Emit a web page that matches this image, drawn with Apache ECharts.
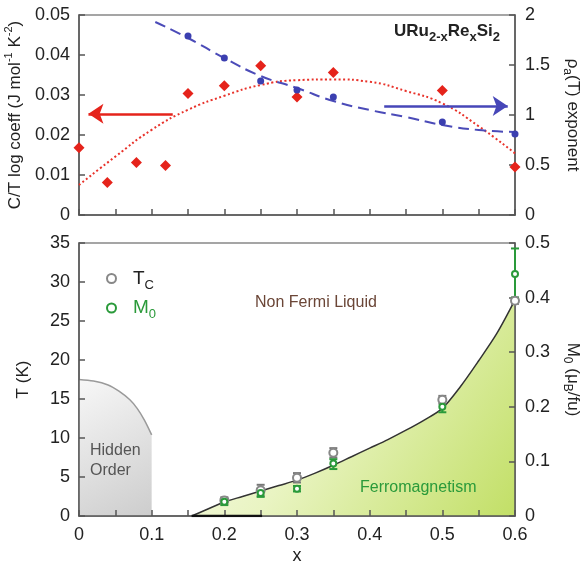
<!DOCTYPE html>
<html>
<head>
<meta charset="utf-8">
<script src="https://cdn.jsdelivr.net/npm/echarts@6/dist/echarts.min.js"></script>
<style>
  html, body { margin: 0; padding: 0; background: #fff; overflow: hidden; }
  #chart { width: 586px; height: 566px; }
</style>
</head>
<body>
<div id="chart"></div>
<script>
// top panel: C/T log coefficient (left axis)
const ctX = [0, 0.039, 0.079, 0.119, 0.15, 0.2, 0.25, 0.3, 0.35, 0.5, 0.6];
const ctCoeff = [0.0168, 0.0081, 0.0131, 0.0124, 0.0304, 0.0323, 0.0373, 0.0295, 0.0356, 0.0311, 0.012];
const ctFitX = [0, 0.05, 0.1, 0.15, 0.2, 0.25, 0.3, 0.35, 0.4, 0.45, 0.5, 0.55, 0.6];
const ctFit = [0.0075, 0.0146, 0.0213, 0.0263, 0.0298, 0.0325, 0.0337, 0.0339, 0.0333, 0.0310, 0.0279, 0.0222, 0.0154];

// top panel: rho_a(T) exponent (right axis)
const rhoX = [0.15, 0.2, 0.25, 0.3, 0.35, 0.5, 0.6];
const rhoExp = [1.79, 1.57, 1.34, 1.25, 1.18, 0.93, 0.81];
const rhoFitX = [0.105, 0.15, 0.2, 0.25, 0.3, 0.35, 0.4, 0.45, 0.5, 0.55, 0.6];
const rhoFit = [1.93, 1.77, 1.57, 1.39, 1.27, 1.14, 1.05, 0.98, 0.90, 0.85, 0.83];

// bottom panel: Tc (K) with error bars
const tcX = [0.2, 0.25, 0.3, 0.35, 0.5, 0.6];
const tc = [2.0, 3.3, 4.9, 8.1, 14.9, 27.6];
const tcErr = [0.4, 0.7, 0.6, 0.6, 0.5, 0.4];

// bottom panel: M0 (muB/fu) with error bars
const m0X = [0.2, 0.25, 0.3, 0.35, 0.5, 0.6];
const m0 = [0.026, 0.042, 0.050, 0.096, 0.200, 0.443];
const m0Lo = [0.020, 0.035, 0.045, 0.086, 0.190, 0.400];
const m0Hi = [0.032, 0.050, 0.055, 0.104, 0.210, 0.490];

// phase boundaries
const fmX = [0.155, 0.175, 0.2, 0.225, 0.25, 0.275, 0.3, 0.325, 0.35, 0.375, 0.4, 0.425, 0.45, 0.475, 0.5, 0.525, 0.55, 0.575, 0.6];
const fmT = [0, 0.8, 1.8, 2.5, 3.2, 3.9, 4.6, 5.5, 6.5, 7.6, 8.7, 9.8, 11.0, 12.3, 13.8, 16.6, 19.9, 23.4, 27.7];
const hoX = [0, 0.02, 0.04, 0.055, 0.07, 0.08, 0.09, 0.1];
const hoT = [17.5, 17.3, 16.8, 16.0, 14.9, 13.8, 12.3, 10.4];

const pairs = (xs, ys) => xs.map((x, i) => [x, ys[i]]);

const font = 'Liberation Sans, Arial, sans-serif';
const dark = '#222';
const axisCol = '#555';

const xBase = {
  type: 'value', min: 0, max: 0.6, interval: 0.1, z: 3,
  axisLine: { lineStyle: { color: axisCol, width: 1.5 } },
  axisTick: { inside: true, length: 6, lineStyle: { color: axisCol, width: 1.5 } },
  minorTick: { show: true, splitNumber: 2, length: 6, lineStyle: { color: axisCol, width: 1.5 } },
  splitLine: { show: false }
};

const yBase = (grid, pos, min, max, interval) => ({
  type: 'value', gridIndex: grid, position: pos, min, max, interval, z: 3,
  axisLine: { show: true, lineStyle: { color: axisCol, width: 1.5 } },
  axisTick: { show: true, inside: true, length: 6, lineStyle: { color: axisCol, width: 1.5 } },
  axisLabel: { fontSize: 18, color: dark, margin: pos === 'left' ? 9 : 10 },
  splitLine: { show: false },
  nameLocation: 'middle'
});

const nameRich = {
  n: { fontSize: 17, color: dark, lineHeight: 24, fontFamily: font },
  sup: { fontSize: 11, color: dark, verticalAlign: 'top', lineHeight: 14, fontFamily: font },
  sub: { fontSize: 12, color: dark, verticalAlign: 'bottom', lineHeight: 12, fontFamily: font }
};

// error bar drawing through the axis scales
const errBar = (color, capW) => (params, api) => {
  const x = api.value(0);
  const lo = api.coord([x, api.value(1)]);
  const hi = api.coord([x, api.value(2)]);
  const st = { stroke: color, lineWidth: 2, opacity: 1 };
  return {
    type: 'group',
    children: [
      { type: 'line', shape: { x1: lo[0], y1: lo[1], x2: hi[0], y2: hi[1] }, style: st },
      { type: 'line', shape: { x1: lo[0] - capW, y1: lo[1], x2: lo[0] + capW, y2: lo[1] }, style: st },
      { type: 'line', shape: { x1: hi[0] - capW, y1: hi[1], x2: hi[0] + capW, y2: hi[1] }, style: st }
    ]
  };
};

const chart = echarts.init(document.getElementById('chart'));

const option = {
  animation: false,
  textStyle: { fontFamily: font },
  grid: [
    { left: 79, top: 15, width: 436, height: 200, show: true, borderColor: '#888', borderWidth: 1.5, outerBoundsMode: 'none' },
    { left: 79, top: 243, width: 436, height: 273, show: true, borderColor: '#888', borderWidth: 1.5, outerBoundsMode: 'none' }
  ],
  xAxis: [
    Object.assign({}, xBase, { gridIndex: 0, axisLabel: { show: false } }),
    Object.assign({}, xBase, {
      gridIndex: 1, name: 'x', nameLocation: 'middle', nameGap: 31,
      nameTextStyle: { fontSize: 18, color: dark },
      axisLabel: { fontSize: 18, color: dark, margin: 10 }
    })
  ],
  yAxis: [
    Object.assign(yBase(0, 'left', 0, 0.05, 0.01), {
      name: '{n|C/T log coeff (J mol}{sup|-1}{n| K}{sup|-2}{n|)}',
      nameGap: 49, nameRotate: 90, nameTextStyle: { rich: nameRich }
    }),
    Object.assign(yBase(0, 'right', 0, 2, 0.5), {
      name: '{n|ρ}{sub|a}{n|(T) exponent}',
      nameGap: 35, nameRotate: -90, nameTextStyle: { rich: nameRich }
    }),
    Object.assign(yBase(1, 'left', 0, 35, 5), {
      name: '{n|T (K)}',
      nameGap: 44, nameRotate: 90, nameTextStyle: { rich: nameRich }
    }),
    Object.assign(yBase(1, 'right', 0, 0.5, 0.1), {
      name: '{n|M}{sub|0}{n| (μ}{sub|B}{n|/fu)}',
      nameGap: 38, nameRotate: -90, nameTextStyle: { rich: nameRich }
    })
  ],
  legend: {
    orient: 'vertical', left: 101, top: 264, itemGap: 7,
    itemWidth: 9, itemHeight: 9,
    data: ['Tc', 'M0'],
    formatter: name => name === 'Tc' ? '{t|T}{s|C}' : '{g|M}{gs|0}',
    textStyle: {
      padding: [0, 0, 0, 12],
      rich: {
        t: { fontSize: 19, color: dark, lineHeight: 26 },
        s: { fontSize: 13, color: dark, verticalAlign: 'bottom', lineHeight: 13 },
        g: { fontSize: 19, color: '#2a9a3a', lineHeight: 26 },
        gs: { fontSize: 13, color: '#2a9a3a', verticalAlign: 'bottom', lineHeight: 13 }
      }
    }
  },
  graphic: [
    {
      type: 'text', left: 394, top: 23, z: 10,
      style: {
        text: '{b|URu}{bs|2-x}{b|Re}{bs|x}{b|Si}{bs|2}',
        rich: {
          b: { fontSize: 17, fontWeight: 'bold', fill: dark, lineHeight: 24, fontFamily: font },
          bs: { fontSize: 13, fontWeight: 'bold', fill: dark, verticalAlign: 'bottom', lineHeight: 12, fontFamily: font }
        }
      }
    },
    { type: 'text', left: 255, top: 295, z: 10, style: { text: 'Non Fermi Liquid', fontSize: 16, fill: '#6b4637', fontFamily: font } },
    { type: 'text', left: 360, top: 480, z: 10, style: { text: 'Ferromagnetism', fontSize: 16, fill: '#2a9a3a', fontFamily: font } },
    { type: 'text', left: 90, top: 441, z: 10, style: { text: 'Hidden\nOrder', fontSize: 16, lineHeight: 20, fill: '#555', fontFamily: font } }
  ],
  series: [
    {
      type: 'line', xAxisIndex: 0, yAxisIndex: 0, data: pairs(ctFitX, ctFit), smooth: true,
      symbol: 'none', lineStyle: { color: '#e8322a', width: 2, type: [2, 2.5] }, z: 4
    },
    {
      type: 'line', xAxisIndex: 0, yAxisIndex: 1, data: pairs(rhoFitX, rhoFit), smooth: true,
      symbol: 'none', lineStyle: { color: '#4b4bb8', width: 2, type: [11, 6] }, z: 4
    },
    {
      type: 'scatter', xAxisIndex: 0, yAxisIndex: 0, data: pairs(ctX, ctCoeff),
      symbol: 'diamond', symbolSize: 11, itemStyle: { color: '#e5231b', opacity: 1 }, z: 5,
      markLine: {
        silent: true, symbol: ['none', 'arrow'], symbolSize: 15, label: { show: false },
        lineStyle: { color: '#e5231b', width: 2.5, type: 'solid' },
        data: [[{ coord: [0.129, 0.0253] }, { coord: [0.013, 0.0253] }]]
      }
    },
    {
      type: 'scatter', xAxisIndex: 0, yAxisIndex: 1, data: pairs(rhoX, rhoExp),
      symbol: 'circle', symbolSize: 7, itemStyle: { color: '#3b3fb0', opacity: 1 }, z: 5,
      markLine: {
        silent: true, symbol: ['none', 'arrow'], symbolSize: 15, label: { show: false },
        lineStyle: { color: '#4646b8', width: 2.5, type: 'solid' },
        data: [[{ coord: [0.42, 1.09] }, { coord: [0.59, 1.09] }]]
      }
    },
    {
      type: 'line', xAxisIndex: 1, yAxisIndex: 2, data: pairs(hoX, hoT), smooth: 0.3,
      symbol: 'none', lineStyle: { color: '#9a9a9a', width: 1.5 }, z: 1,
      areaStyle: {
        opacity: 1,
        color: new echarts.graphic.LinearGradient(0, 0, 1, 1, [
          { offset: 0, color: '#f7f7f7' },
          { offset: 1, color: '#cdcdcd' }
        ])
      }
    },
    {
      type: 'line', xAxisIndex: 1, yAxisIndex: 2, data: pairs(fmX, fmT), smooth: 0.3,
      symbol: 'none', lineStyle: { color: '#333', width: 1.5 }, z: 1,
      areaStyle: {
        opacity: 1,
        color: new echarts.graphic.LinearGradient(0, 0, 1, 1, [
          { offset: 0, color: '#fbfdf1' },
          { offset: 0.45, color: '#e9f4c2' },
          { offset: 1, color: '#c2df66' }
        ])
      }
    },
    {
      type: 'line', xAxisIndex: 1, yAxisIndex: 2, data: [[0.155, 0], [0.252, 0]],
      symbol: 'none', lineStyle: { color: '#111', width: 2.5 }, z: 4
    },
    {
      type: 'custom', xAxisIndex: 1, yAxisIndex: 2, z: 5,
      data: tcX.map((x, i) => [x, tc[i] - tcErr[i], tc[i] + tcErr[i]]),
      renderItem: errBar('#777', 4)
    },
    {
      type: 'custom', xAxisIndex: 1, yAxisIndex: 3, z: 6,
      data: m0X.map((x, i) => [x, m0Lo[i], m0Hi[i]]),
      renderItem: errBar('#2a9a3a', 4)
    },
    {
      name: 'Tc', type: 'scatter', xAxisIndex: 1, yAxisIndex: 2, data: pairs(tcX, tc),
      symbol: 'emptyCircle', symbolSize: 8,
      itemStyle: { color: '#888', borderWidth: 1.5, opacity: 1 }, z: 7
    },
    {
      name: 'M0', type: 'scatter', xAxisIndex: 1, yAxisIndex: 3, data: pairs(m0X, m0),
      symbol: 'emptyCircle', symbolSize: 6,
      itemStyle: { color: '#2a9a3a', borderWidth: 2, opacity: 1 }, z: 8
    }
  ]
};

chart.setOption(option);
window.addEventListener('resize', () => chart.resize());
</script>
</body>
</html>
